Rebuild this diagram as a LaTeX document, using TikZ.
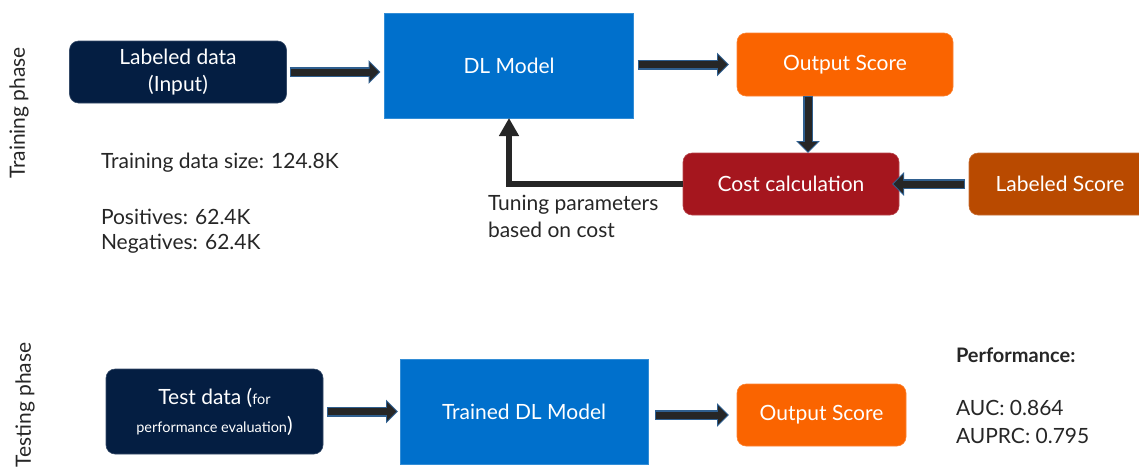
\documentclass[tikz,border=0pt]{standalone}
\usepackage{fontspec}
\setmainfont{Lato}
\usetikzlibrary{arrows.meta,calc}
\definecolor{navy}{HTML}{041E42}
\definecolor{mblue}{HTML}{0070CC}
\definecolor{orng}{HTML}{FA6400}
\definecolor{dred}{HTML}{A5161E}
\definecolor{burnt}{HTML}{B94A00}
\definecolor{shaft}{HTML}{262626}
\definecolor{rim}{HTML}{2F5F8F}
\definecolor{txt}{HTML}{262626}
\newcommand\fatarrow[2]{%
  \draw[rimarrow] (#1) -- (#2);
  \draw[corearrow] (#1) -- (#2);}
\newcommand\smalltxt{\fontsize{14.5}{17}\selectfont}
\begin{document}
\begin{tikzpicture}[x=1pt,y=-1pt,
  every node/.style={inner sep=0pt, outer sep=0pt, font=\fontsize{21}{27}\selectfont},
  box/.style={draw=#1!80!white, line width=0.6pt, fill=#1, text=white, align=center},
  rbox/.style={box=#1, rounded corners=9pt},
  plain/.style={text=txt, anchor=west},
  rimarrow/.style={draw=rim, line width=10pt, -{Triangle[length=12pt,width=23pt]}, shorten <=0pt},
  corearrow/.style={draw=shaft, line width=7pt, -{Triangle[length=9.5pt,width=18pt]}, shorten >=1.5pt, shorten <=1pt},
  fbline/.style={draw=shaft, line width=6pt, -{Triangle[length=18pt,width=19pt]}}
]
\useasboundingbox (0,0) rectangle (1139,474);

% ---------- training phase ----------
\node[rotate=90, text=txt] (trainlbl) at (19,113) {Training phase};

\node[rbox=navy, minimum width=217pt, minimum height=62pt] (lab) at (178,72) {Labeled data\\(Input)};
\node[box=mblue, minimum width=249pt, minimum height=105pt] (dl) at (509,65.5) {DL Model};
\node[rbox=orng, minimum width=216pt, minimum height=63pt] (out) at (845,64.5) {Output Score};
\node[rbox=dred, minimum width=216pt, minimum height=62pt] (cost) at (791,184) {Cost calculation};
\node[rbox=burnt, minimum width=182pt, minimum height=62pt] (lscore) at (1060,184) {Labeled Score};

\fatarrow{[xshift=3pt]lab.east}{[xshift=-4pt]lab.east -| dl.west}
\fatarrow{[xshift=4pt]dl.east |- out.west}{[xshift=-8pt]out.west}
\coordinate (dtop) at ([xshift=-37pt]out.south);
\fatarrow{dtop}{dtop |- cost.north}
\fatarrow{[xshift=-4pt]lscore.west}{[xshift=-7pt]cost.east}
\draw[fbline] (cost.west) -| (dl.south);

\node[text=txt, align=left, anchor=north west] (tune) at (488,195) {Tuning parameters\\based on cost};

\node[plain] (size) at (101,163) {Training data size: 124.8K};
\node[plain] (pos) at (101,217) {Positives: 62.4K};
\node[plain] (neg) at (101,244) {Negatives: 62.4K};

% ---------- testing phase ----------
\node[rotate=90, text=txt] (testlbl) at (25,405) {Testing phase};

\node[rbox=navy, minimum width=217pt, minimum height=85pt] (test) at (214.5,411.5)
  {Test data ({\smalltxt for}\\[1pt]{\smalltxt performance evaluation})};
\node[box=mblue, minimum width=248pt, minimum height=105pt] (tdl) at (524,411.5) {Trained DL Model};
\node[rbox=orng, minimum width=169pt, minimum height=62pt] (out2) at (821.5,415) {Output Score};

\fatarrow{[xshift=4pt]test.east}{[xshift=-2pt]tdl.west}
\fatarrow{[xshift=7pt]tdl.east |- out2.west}{[xshift=-8pt]out2.west}

\node[plain, font=\fontsize{20}{27}\selectfont\bfseries] (perf) at (956,355) {Performance:};
\node[plain] (auc) at (956,408) {AUC: 0.864};
\node[plain] (auprc) at (956,436) {AUPRC: 0.795};
\end{tikzpicture}
\end{document}
